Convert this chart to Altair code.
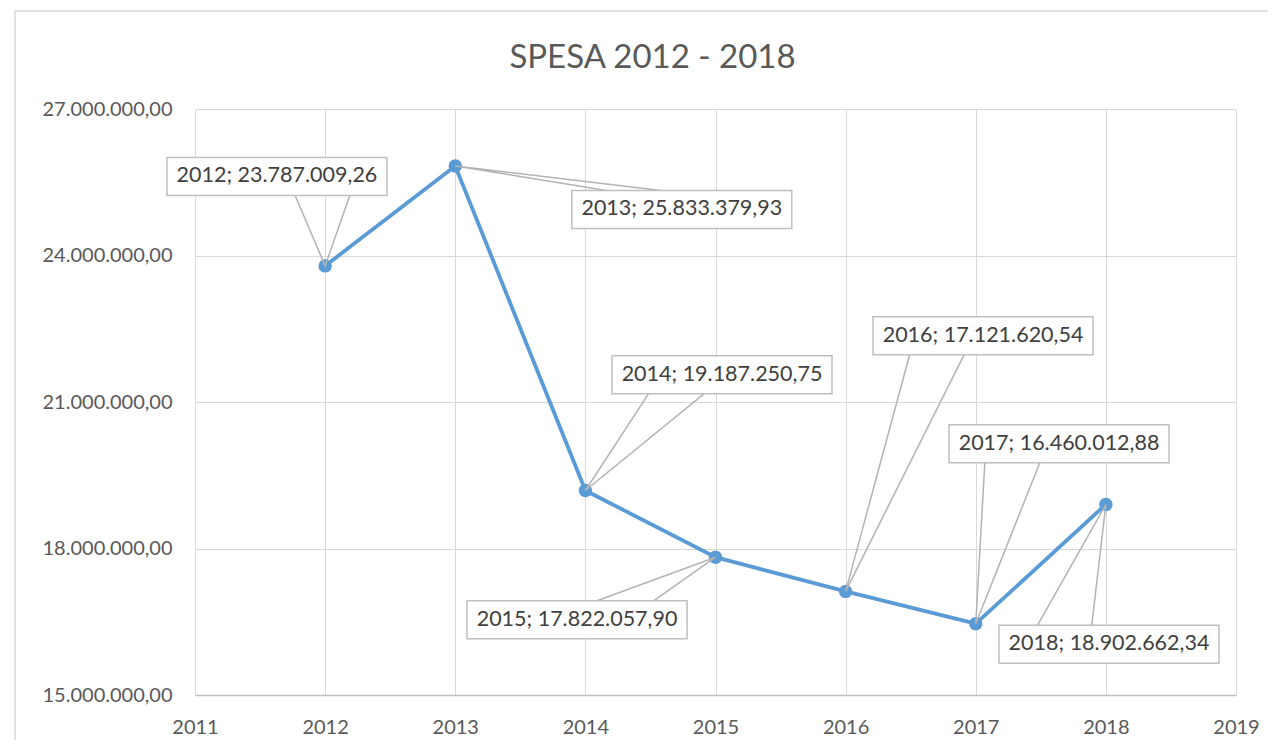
import altair as alt
import pandas as pd

# ---- data -------------------------------------------------------------
title_text = "SPESA 2012 - 2018"
years = [2012, 2013, 2014, 2015, 2016, 2017, 2018]
values = [23787009.26, 25833379.93, 19187250.75, 17822057.90,
          17121620.54, 16460012.88, 18902662.34]
x_ticks = [2011, 2012, 2013, 2014, 2015, 2016, 2017, 2018, 2019]
y_ticks = [15000000, 18000000, 21000000, 24000000, 27000000]

# data-label placement (in data units: year, value)
label_x = [2011.630, 2014.741, 2015.050, 2013.936, 2017.056, 2017.640, 2018.024]
label_y = [25.620e6, 24.942e6, 21.559e6, 16.542e6, 22.356e6, 20.146e6, 16.040e6]
callout_y = [25.239e6, 25.327e6, 21.178e6, 16.931e6, 21.977e6, 19.765e6, 16.419e6]
callout_x1 = [2011.768, 2014.174, 2014.487, 2014.089, 2016.493, 2017.070, 2017.473]
callout_x2 = [2012.191, 2014.597, 2014.916, 2014.527, 2016.912, 2017.494, 2017.891]


def it_num(v):
    s = f"{v:,.2f}"
    return s.replace(",", "_").replace(".", ",").replace("_", ".")


W, H = 1041, 586
FONT = "Lato"
BLUE = "#5b9bd5"
GRID = "#d9d9d9"

series = pd.DataFrame({"year": years, "value": values})
labels = pd.DataFrame({
    "lx": label_x, "ly": label_y,
    "text": [f"{y}; {it_num(v)}" for y, v in zip(years, values)],
})
rows = []
for i, (yr, v) in enumerate(zip(years, values)):
    rows.append({"id": i, "o": 0, "x": callout_x1[i], "y": callout_y[i]})
    rows.append({"id": i, "o": 1, "x": yr, "y": v})
    rows.append({"id": i, "o": 2, "x": callout_x2[i], "y": callout_y[i]})
callouts = pd.DataFrame(rows)

xscale = alt.Scale(domain=[2011, 2019], nice=False, zero=False)
yscale = alt.Scale(domain=[15000000, 27000000], nice=False, zero=False)

xaxis = alt.Axis(values=x_ticks, format="d", title=None, ticks=False,
                 grid=True, gridColor=GRID, gridWidth=1,
                 domain=True, domainColor="#bfbfbf", domainWidth=1.5,
                 labelFont=FONT, labelFontSize=20, labelColor="#595959",
                 labelPadding=22, labelFlush=False)
yaxis = alt.Axis(values=y_ticks, format=",.2f", title=None, ticks=False,
                 grid=True, gridColor=GRID, gridWidth=1, domain=False,
                 labelFont=FONT, labelFontSize=20, labelColor="#595959",
                 labelPadding=23)

base = alt.Chart(series).encode(
    x=alt.X("year:Q", scale=xscale, axis=xaxis),
    y=alt.Y("value:Q", scale=yscale, axis=yaxis),
)
line = base.mark_line(color=BLUE, strokeWidth=3.8)
pts = base.mark_circle(color=BLUE, size=180, opacity=1)

leaders = alt.Chart(callouts).mark_line(color="#b3b3b3", strokeWidth=1.5).encode(
    x=alt.X("x:Q", scale=xscale),
    y=alt.Y("y:Q", scale=yscale),
    detail="id:N",
    order="o:Q",
)

boxes = alt.Chart(labels).mark_rect(
    fill="white", stroke="#bfbfbf", strokeWidth=1.5,
    xOffset=-110, x2Offset=110, yOffset=-19, y2Offset=19,
).encode(
    x=alt.X("lx:Q", scale=xscale),
    x2="lx:Q",
    y=alt.Y("ly:Q", scale=yscale),
    y2="ly:Q",
)
texts = alt.Chart(labels).mark_text(
    font=FONT, fontSize=21.5, color="#404040", align="center", baseline="middle",
).encode(
    x=alt.X("lx:Q", scale=xscale),
    y=alt.Y("ly:Q", scale=yscale),
    text="text:N",
)

border = alt.Chart(pd.DataFrame({"a": [0]})).mark_rect(
    fill="transparent", stroke=GRID, strokeWidth=1.5,
).encode(
    x=alt.value(-180), x2=alt.value(1200),
    y=alt.value(-98), y2=alt.value(700),
)

chart = alt.layer(border, line, pts, leaders, boxes, texts).properties(
    width=W, height=H,
    title=alt.Title(title_text, font=FONT, fontSize=33, fontWeight="normal",
                    color="#595959", anchor="middle", frame="group",
                    offset=0, baseline="alphabetic", dx=-63, dy=91),
    autosize=alt.AutoSizeParams(type="none"),
    padding={"left": 187, "top": 101, "right": 32, "bottom": 45},
).configure(
    locale={"number": {"decimal": ",", "thousands": ".", "grouping": [3],
                       "currency": ["€", ""]}},
).configure_view(stroke=None)

chart.save("out.html", embed_options={"renderer": "svg", "actions": False})
